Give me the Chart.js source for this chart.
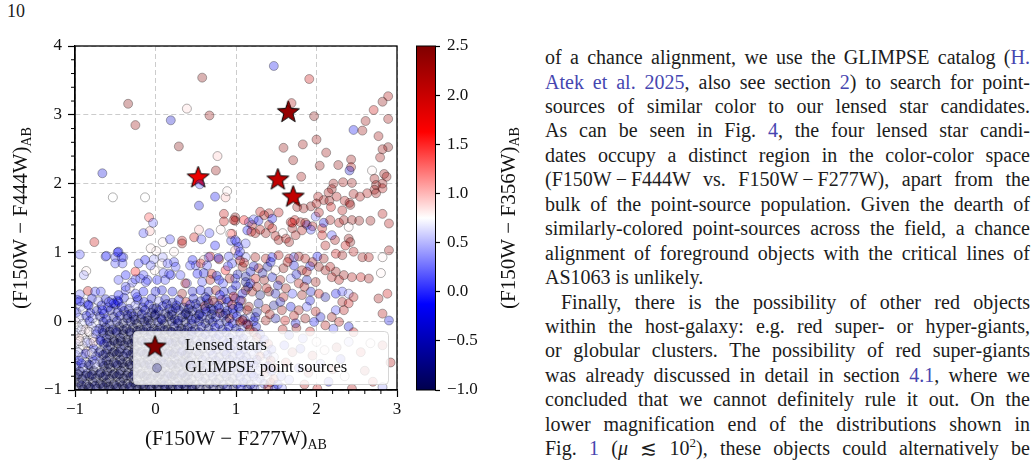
<!DOCTYPE html>
<html>
<head>
<meta charset="utf-8">
<script src="https://cdn.jsdelivr.net/npm/chart.js@4.4.1/dist/chart.umd.min.js"></script>
<style>
body { margin: 0; width: 1036px; height: 470px; background: #fff; overflow: hidden; position: relative; font-family: "Liberation Serif", serif; color: #1c1c1c; }
#main { position: absolute; left: 0; top: 0; }
#cbar { position: absolute; left: 400px; top: 0; }
#page { position: absolute; left: 7px; top: 1px; font-size: 18px; }
.ln { position: absolute; left: 545px; width: 485px; height: 24px; font-size: 20px; line-height: 24px; }
.ln span.t { white-space: nowrap; }
.ln.ind { left: 561px; width: 469px; }
.lk { color: #4646b0; }
</style>
</head>
<body>
<div id="page">10</div>
<canvas id="main" width="410" height="470"></canvas>
<canvas id="cbar" width="140" height="470"></canvas>

<div class="ln j" style="top:45px"><span class="t">of a chance alignment, we use the GLIMPSE catalog (<span class="lk">H.</span></span></div>
<div class="ln j" style="top:69.5px"><span class="t"><span class="lk">Atek et al. 2025</span>, also see section <span class="lk">2</span>) to search for point-</span></div>
<div class="ln j" style="top:94px"><span class="t">sources of similar color to our lensed star candidates.</span></div>
<div class="ln j" style="top:118.4px"><span class="t">As can be seen in Fig. <span class="lk">4</span>, the four lensed star candi-</span></div>
<div class="ln j" style="top:142.8px"><span class="t">dates occupy a distinct region in the color-color space</span></div>
<div class="ln j" style="top:167.2px"><span class="t">(F150W&#8201;&#8722;&#8201;F444W vs. F150W&#8201;&#8722;&#8201;F277W), apart from the</span></div>
<div class="ln j" style="top:191.7px"><span class="t">bulk of the point-source population. Given the dearth of</span></div>
<div class="ln j" style="top:216.1px"><span class="t">similarly-colored point-sources across the field, a chance</span></div>
<div class="ln j" style="top:240.6px"><span class="t">alignment of foreground objects with the critical lines of</span></div>
<div class="ln" style="top:265px"><span class="t">AS1063 is unlikely.</span></div>
<div class="ln j ind" style="top:289.5px"><span class="t">Finally, there is the possibility of other red objects</span></div>
<div class="ln j" style="top:314px"><span class="t">within the host-galaxy: e.g. red super- or hyper-giants,</span></div>
<div class="ln j" style="top:338.4px"><span class="t">or globular clusters. The possibility of red super-giants</span></div>
<div class="ln j" style="top:362.8px"><span class="t">was already discussed in detail in section <span class="lk">4.1</span>, where we</span></div>
<div class="ln j" style="top:387.3px"><span class="t">concluded that we cannot definitely rule it out. On the</span></div>
<div class="ln j" style="top:411.7px"><span class="t">lower magnification end of the distributions shown in</span></div>
<div class="ln j" style="top:436.2px"><span class="t">Fig. <span class="lk">1</span> (<i>&#956;</i> &#8818; 10<sup style="font-size:13px;line-height:0">2</sup>), these objects could alternatively be</span></div>

<script>
// colour scale of the colorbar: (F150W - F356W)
const CMIN = -1.0;
const CMAX = 2.5;

const xTicks = [-1, 0, 1, 2, 3];
const yTicks = [-1, 0, 1, 2, 3, 4];
const cbarTicks = [-1.0, -0.5, 0.0, 0.5, 1.0, 1.5, 2.0, 2.5];

// lensed star candidates
const starX = [0.53, 1.65, 1.52, 1.71];
const starY = [2.10, 3.05, 2.07, 1.82];
const starC = [1.75, 2.35, 2.05, 2.05];

// GLIMPSE point sources: [F150W-F277W, F150W-F444W, F150W-F356W]
const sourcesUpper = [
  [0.58,3.54,2.5],[-0.34,3.16,2.5],[0.39,3.09,0.9],[0.67,2.99,2.4],[0.19,2.92,-0.4],[-0.25,2.85,2.35],[0.29,2.54,2.5],[0.77,2.40,0.95],
  [0.75,2.19,2.4],[-0.66,2.15,-0.3],[0.55,1.99,0.1],[-0.53,1.80,0.75],[-0.13,1.80,0.75],[0.74,1.81,-0.2],[0.87,1.80,1.0],[0.89,1.89,0.8],
  [0.54,1.68,-0.3],[-0.08,1.51,1.4],[-0.03,1.43,0.2],[0.85,1.56,2.0],[0.85,1.45,2.0],[0.99,1.51,2.45],[0.99,1.46,2.45],
  [1.47,3.71,-0.2],[1.91,3.52,2.0],[1.69,3.17,2.2],[1.97,2.98,2.5],[2.89,3.27,2.2],[2.82,3.19,2.45],[2.71,3.07,2.0],[2.61,2.91,2.35],
  [2.89,2.94,2.3],[2.46,2.78,-0.2],[2.57,2.77,2.35],[2.77,2.69,2.3],[2.00,2.64,2.35],[1.83,2.57,2.35],[1.59,2.52,2.4],[2.89,2.53,2.5],
  [2.82,2.50,2.35],[2.79,2.38,2.3],[2.12,2.45,2.35],[1.71,2.34,2.4],[2.43,2.35,2.35],[2.43,2.24,2.2],[2.04,2.26,2.4],[2.27,2.27,2.4],
  [2.41,2.19,-0.4],[2.69,2.19,0.8],[1.81,2.10,2.3],[2.72,2.07,2.3],[2.84,2.14,2.35],[2.87,2.10,2.3],[2.21,2.00,2.35],[2.33,2.02,2.3],
  [2.44,2.01,2.4],[2.19,1.92,2.35],[2.15,1.87,2.3],[2.25,1.81,2.2],[2.74,1.98,2.4],[2.72,1.91,2.35],[2.74,1.86,2.3],[2.82,1.93,2.2],
  [2.82,2.00,2.35],[2.63,1.86,2.2],[2.54,1.81,2.2],[2.46,1.85,2.3],[2.02,1.81,2.2],[2.09,1.76,2.3],[2.16,1.75,2.4],[2.35,1.75,2.2],
  [2.41,1.72,2.3],[1.93,1.67,2.4],[1.84,1.64,2.35],[1.76,1.66,2.3],[2.00,1.71,2.2],[2.82,1.56,2.2],[0.97,1.47,2.0],[1.10,1.47,1.6],
  [1.22,1.48,0.2],[1.28,1.46,-0.3],[1.41,1.57,2.2],[1.45,1.49,-0.2],[1.53,1.58,2.1],[1.70,1.43,1.8],[1.80,1.44,2.2],[1.86,1.43,2.35],
  [1.99,1.52,0.2],[2.03,1.58,2.2],[2.09,1.43,-0.3],[2.17,1.47,2.3],[2.28,1.43,2.2],[2.34,1.47,2.35],[2.44,1.47,2.35],[2.53,1.46,2.45],
  [2.67,1.46,2.4],[2.40,1.37,0.8],[2.90,1.42,2.2],[2.18,1.66,2.0],[2.32,1.61,2.2],[2.42,1.69,2.35],[1.35,1.54,2.3],[1.30,1.59,2.1]
];

const sourcesMiddle = [
  [-0.07,1.31,1.0],[-0.15,1.28,0.1],[-0.76,1.15,2.0],[0.09,1.15,0.8],[0.18,1.19,0.1],[0.33,1.17,2.0],[0.48,1.22,2.0],[0.54,1.33,1.0],
  [0.57,1.19,0.1],[0.67,1.28,0.1],[0.74,1.10,-0.1],[0.81,1.33,0.8],[0.95,1.27,1.6],[0.94,1.17,0.1],[1.01,1.15,0.1],[1.03,1.08,-0.1],
  [-0.94,0.97,0.1],[-0.62,0.94,0.1],[-0.46,1.01,-0.1],[-0.50,0.93,0.1],[-0.40,0.93,0.1],[-0.13,0.89,-0.1],[0.01,1.02,0.8],[0.09,0.93,0.4],
  [0.23,1.01,0.8],[0.23,0.86,0.1],[0.46,0.89,-0.1],[0.60,0.89,0.9],[0.68,0.94,1.6],[0.79,0.90,2.2],[0.91,0.94,0.1],[0.99,1.03,1.0],
  [1.68,1.44,2.2],[1.73,1.47,2.0],[1.88,1.40,-0.1],[1.95,1.38,2.2],[2.07,1.35,2.0],[1.70,1.35,2.35],[1.82,1.32,2.2],[1.93,1.33,0.1],
  [1.74,1.25,2.3],[1.16,1.44,0.1],[1.20,1.40,2.2],[1.14,1.32,-0.1],[1.19,1.30,2.0],[1.24,1.28,2.3],[1.30,1.33,2.2],[1.37,1.28,2.35],
  [1.45,1.35,2.0],[1.41,1.40,2.3],[1.49,1.24,2.2],[1.58,1.28,0.8],[1.53,1.18,2.3],[1.62,1.20,2.2],[1.66,1.15,2.35],[2.07,1.25,2.0],
  [2.19,1.25,0.1],[2.23,1.18,2.3],[2.40,1.20,2.4],[2.42,1.15,2.45],[2.36,1.10,2.0],[2.11,1.10,2.2],[2.24,0.98,2.0],[2.32,0.96,2.35],
  [2.46,1.01,2.2],[2.57,0.93,2.3],[2.65,0.93,2.2],[2.82,0.93,0.8],[2.90,1.03,2.3],[1.03,0.96,-0.1],[1.12,0.93,0.4],[1.24,0.93,2.3],
  [1.37,0.91,2.2],[1.45,0.93,-0.1],[1.53,0.96,2.2],[1.66,0.91,2.2],[1.72,0.93,0.1],[1.78,0.94,2.3],[1.86,0.91,2.2],[2.01,0.94,-0.1],
  [2.09,0.91,2.35],
  [-0.61,0.95,0.1],[-0.47,1.00,-0.1],[-0.42,0.93,0.1],[-0.50,0.84,0.1],[-0.86,0.73,0.8],[-0.89,0.67,0.4],[-0.94,0.39,0.2],[-0.84,0.44,2.0],
  [-0.75,0.43,0.1],[-0.68,0.43,0.1],[-0.83,0.23,-0.1],[-0.94,0.29,-0.1],[-0.54,0.31,0.1],[-0.46,0.28,-0.1],[-0.37,0.45,0.1],[-0.32,0.48,0.8],
  [-0.29,0.56,0.2],[-0.25,0.61,0.1],[-0.23,0.35,-0.1],[-0.25,0.72,1.6],[-0.02,0.90,0.4],[-0.06,1.06,0.8],[-0.10,0.60,0.1],[-0.19,0.62,0.2],
  [-0.01,0.74,0.8],[0.08,0.84,0.8],[0.10,0.70,0.1],[0.33,1.13,2.2],[0.15,0.84,0.1],[0.19,0.67,-0.1],[0.31,0.67,0.1],[0.39,0.55,0.2],
  [0.50,0.81,0.1],[0.56,0.84,2.0],[0.66,0.93,0.1],[0.93,1.27,0.9],[0.99,1.18,0.1],[1.05,1.01,0.1],[1.12,1.13,0.2],
  [-0.66,0.16,-0.1],[-0.58,0.28,0.1],[-0.52,0.26,-0.1],[-0.46,0.60,0.1],[-0.37,0.67,-0.1],[-0.41,0.84,0.1],[-0.21,0.84,0.1],[-0.15,0.67,0.1],
  [-0.12,0.57,0.1],[-0.06,0.81,0.2],[0.02,0.60,-0.1],[0.08,0.45,-0.3],[0.12,0.60,0.1],[0.17,0.69,0.2],[0.25,0.79,0.1],[0.37,0.55,2.2],
  [0.43,0.81,0.1],[0.52,0.69,-0.1],[0.58,0.57,0.1],[0.64,0.81,0.1],[0.70,0.69,2.0],[0.79,0.60,-0.1],[0.87,0.74,1.6],[0.95,0.84,0.1],
  [0.99,0.62,0.1],[0.00,0.43,-0.3],[-0.15,0.43,-0.1],[-0.25,0.40,0.1],[-0.37,0.50,0.1],[-0.46,0.38,-0.1],[0.21,0.43,-0.3],[0.33,0.40,2.4],
  [0.46,0.43,-0.4],[0.56,0.45,-0.1],[0.66,0.43,-0.4],[0.75,0.45,2.3],[0.85,0.43,-0.3],[0.95,0.45,-0.4],
  [0.60,0.70,-0.3],[0.68,0.60,2.2],[0.76,0.66,-0.4],[0.84,0.55,0.1],[0.92,0.62,2.35],[1.00,0.52,-0.3],[0.62,0.35,-0.6],[0.71,0.30,2.3],
  [0.80,0.38,-0.1],[0.88,0.32,-0.4],[0.97,0.36,2.0],[1.05,0.30,0.1],[1.12,0.45,2.4],[0.90,0.80,0.1],[1.05,0.88,2.2],[0.78,0.92,-0.1],
  [1.12,0.65,-0.6],[1.18,0.55,-0.1]
];

const sourcesMixed = [
  [1.08,0.79,2.35],[1.18,0.72,-0.4],[1.28,0.77,2.2],[1.39,0.79,-0.6],[1.49,0.74,0.8],[1.59,0.77,2.45],[1.72,0.81,-0.3],[1.82,0.74,2.3],
  [1.12,0.57,-0.7],[1.24,0.62,2.0],[1.35,0.60,2.4],[1.45,0.64,-0.4],[1.55,0.60,2.3],[1.68,0.62,0.4],[1.78,0.55,2.2],[1.88,0.60,-0.5],
  [1.99,0.57,2.35],[1.08,0.40,-0.3],[1.20,0.43,2.3],[1.30,0.38,-0.8],[1.41,0.43,2.5],[1.49,0.40,-0.5],[1.59,0.35,2.2],[1.70,0.40,0.1],
  [1.82,0.38,2.4],[1.93,0.43,-0.4],[2.03,0.40,2.0],[2.11,0.35,-0.6],[1.16,0.21,2.4],[1.28,0.26,-0.6],[1.37,0.18,2.2],[1.47,0.23,-0.7],
  [1.57,0.16,2.35],[1.68,0.21,-0.3],[1.78,0.16,2.3],[1.88,0.21,0.2],[1.99,0.14,2.2],[2.05,0.06,-0.4],[1.24,0.06,-0.5],[1.37,0.01,2.35],
  [1.49,0.04,-0.6],[1.61,0.01,2.0],[1.74,-0.03,-0.3],[1.86,0.04,2.4],[1.97,-0.01,-0.2],[1.08,0.01,2.2],[1.03,0.21,-0.4],
  [1.02,0.68,-0.5],[1.10,0.85,2.2],[1.15,0.50,-0.7],[1.22,0.80,-0.4],[1.26,0.50,2.3],[1.33,0.70,-0.6],[1.38,0.48,2.2],[1.43,0.86,-0.3],
  [1.52,0.52,-0.5],[1.62,0.48,2.35],[1.64,0.86,2.2],[1.75,0.68,-0.4],[1.85,0.50,2.3],[1.92,0.80,-0.2],[1.26,0.13,-0.6],[1.42,0.10,2.3],
  [1.55,0.28,-0.5],[1.72,0.08,2.2],[1.92,0.30,-0.3],[1.15,-0.05,2.35],
  [2.44,0.64,2.2],[2.55,0.64,2.0],[2.65,0.62,2.3],[2.80,0.70,0.8],[2.77,0.33,2.3],[2.88,0.40,2.0],[2.82,0.11,2.2],[2.90,0.01,-0.3],
  [2.19,0.64,2.2],[2.24,0.72,2.4],[2.28,0.60,2.2],[2.34,0.67,2.35],[2.11,0.74,2.3],[2.03,0.79,2.4],[2.17,0.79,2.2],[1.95,0.86,2.3],
  [1.88,0.72,2.2],[2.24,0.40,-0.2],[2.32,0.43,0.1],[2.40,0.40,0.4],[2.46,0.35,2.2],[2.32,0.28,2.3],[2.40,0.26,2.0],[2.24,0.16,0.1],
  [2.34,0.16,2.2],[2.19,0.06,2.35],[2.28,-0.01,2.2],[2.40,-0.08,-0.3],[2.46,-0.16,2.0],[2.11,-0.06,2.2],[2.21,-0.11,0.1],
  [1.58,-0.12,2.2],[1.66,-0.20,-0.3],[1.75,-0.10,2.35],[1.83,-0.25,0.2],[1.92,-0.15,2.0],[2.00,-0.30,0.8],[1.60,-0.35,-0.2],[1.70,-0.45,2.3],
  [1.80,-0.40,-0.4],[1.95,-0.50,2.2],[2.10,-0.42,0.9],[2.25,-0.38,2.3],[2.40,-0.30,0.4],[2.55,-0.45,2.0],[2.67,-0.32,0.8],[2.82,-0.35,2.2],
  [1.62,-0.60,2.0],[1.78,-0.68,-0.3],[1.90,-0.75,2.3],[2.05,-0.62,0.2],[2.20,-0.70,2.2],[2.35,-0.80,0.8],[2.60,-0.72,2.35],[1.66,-0.85,0.1],
  [1.85,-0.92,2.2],[2.01,-0.98,2.0],[2.15,-0.88,-0.2],[2.44,-0.98,2.2],[2.82,-0.96,0.4],[2.70,-0.88,2.0],[2.92,-0.60,2.2],[2.30,-0.55,-0.3]
];

const sourcesCore = [
  [-0.97,0.31,-0.2],[-0.88,0.27,0.6],[-0.79,0.33,-0.3],[-0.71,0.29,0.4],[-0.62,0.32,-0.4],[-0.55,0.26,0.5],[-0.47,0.30,-0.2],[-0.39,0.34,-0.3],
  [-0.31,0.27,0.6],[-0.22,0.31,-0.4],[-0.14,0.28,-0.2],[-0.05,0.33,-0.3],[0.04,0.29,0.4],[0.12,0.32,-0.4],[0.21,0.27,-0.5],[0.29,0.31,-0.2],
  [0.38,0.28,2.1],[0.47,0.33,-0.3],[0.56,0.29,-0.5],[0.64,0.32,-0.2],[0.73,0.27,0.5],[0.82,0.31,2.2],[0.90,0.28,-0.3],[0.99,0.33,-0.4],[1.07,0.30,2.3],
  [-0.93,0.21,0.4],[-0.84,0.24,-0.3],[-0.76,0.19,0.7],[-0.67,0.23,-0.4],[-0.59,0.20,-0.2],[-0.50,0.24,-0.5],[-0.42,0.21,-0.3],[-0.33,0.18,-0.4],
  [-0.25,0.23,0.4],[-0.16,0.20,-0.5],[-0.08,0.24,-0.3],[0.01,0.19,-0.6],[0.09,0.22,-0.3],[0.17,0.18,-0.5],[0.26,0.23,-0.4],[0.35,0.20,-0.7],
  [0.43,0.24,-0.2],[0.52,0.19,-0.4],[0.61,0.22,2.35],[0.69,0.18,-0.5],[0.78,0.23,-0.3],[0.86,0.20,0.4],[0.95,0.24,2.1],[1.04,0.19,-0.5],
  [-0.98,0.13,-0.3],[-0.90,0.16,0.7],[-0.81,0.12,-0.2],[-0.73,0.15,-0.5],[-0.64,0.11,-0.3],[-0.56,0.16,-0.6],[-0.47,0.13,-0.4],[-0.39,0.15,-0.7],
  [-0.30,0.11,-0.5],[-0.22,0.14,-0.8],[-0.13,0.16,-0.4],[-0.05,0.12,-0.7],[0.04,0.15,-0.5],[0.12,0.11,-0.8],[0.21,0.14,-0.4],[0.29,0.16,-0.6],
  [0.38,0.12,-0.3],[0.46,0.15,-0.7],[0.55,0.11,-0.5],[0.63,0.14,-0.2],[0.72,0.16,-0.6],[0.80,0.12,2.4],[0.89,0.15,-0.4],[0.97,0.11,-0.2],
  [1.06,0.14,0.6],[1.14,0.16,2.2],
  [-0.95,0.05,0.5],[-0.86,0.08,-0.4],[-0.78,0.04,0.4],[-0.69,0.07,-0.6],[-0.61,0.03,-0.3],[-0.52,0.06,-0.7],[-0.44,0.08,-0.5],[-0.35,0.04,-0.8],
  [-0.27,0.07,-0.6],[-0.18,0.03,-0.9],[-0.10,0.06,-0.7],[-0.01,0.08,-0.8],[0.07,0.04,-0.6],[0.16,0.07,-0.9],[0.24,0.03,-0.7],[0.33,0.06,-0.5],
  [0.41,0.08,-0.8],[0.50,0.04,-0.6],[0.58,0.07,-0.4],[0.67,0.03,-0.7],[0.75,0.06,-0.3],[0.84,0.08,-0.5],[0.92,0.04,2.3],[1.01,0.07,-0.3],
  [1.10,0.03,-0.5],[1.18,0.06,0.5],
  [-0.99,-0.01,0.8],[-0.91,-0.04,0.6],[-0.82,0.00,-0.3],[-0.74,-0.03,0.7],[-0.65,-0.01,-0.5],[-0.57,-0.04,-0.7],[-0.48,0.00,-0.6],[-0.40,-0.03,-0.9],
  [-0.31,-0.01,-0.7],[-0.23,-0.04,-1.0],[-0.14,0.00,-0.8],[-0.06,-0.03,-0.9],[0.03,-0.01,-0.7],[0.11,-0.04,-1.0],[0.20,0.00,-0.8],[0.28,-0.03,-0.6],
  [0.37,-0.01,-0.9],[0.45,-0.04,-0.7],[0.54,0.00,-0.5],[0.62,-0.03,-0.8],[0.71,-0.01,-0.6],[0.79,-0.04,-0.4],[0.88,0.00,-0.7],[0.96,-0.03,-0.3],
  [1.05,-0.01,2.35],[1.13,-0.04,-0.4],[1.22,0.00,-0.2],
  [-0.96,-0.09,0.7],[-0.87,-0.12,0.9],[-0.79,-0.08,0.5],[-0.70,-0.11,-0.4],[-0.62,-0.09,-0.8],[-0.53,-0.12,-0.6],[-0.45,-0.08,-1.0],[-0.36,-0.11,-0.8],
  [-0.28,-0.09,-1.0],[-0.19,-0.12,-0.9],[-0.11,-0.08,-0.7],[-0.02,-0.11,-1.0],[0.06,-0.09,-0.8],[0.15,-0.12,-1.0],[0.23,-0.08,-0.7],[0.32,-0.11,-0.9],
  [0.40,-0.09,-0.6],[0.49,-0.12,-0.8],[0.57,-0.08,-0.5],[0.66,-0.11,-0.7],[0.74,-0.09,-0.3],[0.83,-0.12,-0.6],[0.91,-0.08,-0.2],[1.00,-0.11,-0.5],
  [1.08,-0.09,0.4],[1.17,-0.12,2.2],[1.25,-0.08,-0.4],
  [-0.99,-0.17,0.6],[-0.91,-0.20,0.8],[-0.82,-0.16,0.7],[-0.74,-0.19,-0.2],[-0.65,-0.17,-0.6],[-0.57,-0.20,-0.9],[-0.48,-0.16,-0.7],[-0.40,-0.19,-1.0],
  [-0.31,-0.17,-0.8],[-0.23,-0.20,-1.0],[-0.14,-0.16,-0.9],[-0.06,-0.19,-1.0],[0.03,-0.17,-0.8],[0.11,-0.20,-1.0],[0.20,-0.16,-0.7],[0.28,-0.19,-1.0],
  [0.37,-0.17,-0.8],[0.45,-0.20,-0.5],[0.54,-0.16,-0.7],[0.62,-0.19,-0.4],[0.71,-0.17,-0.6],[0.79,-0.20,-0.2],[0.88,-0.16,-0.5],[0.96,-0.19,0.4],
  [1.05,-0.17,-0.4],[1.13,-0.20,0.6],[1.22,-0.16,2.3],[1.30,-0.19,-0.3],
  [-0.95,-0.25,0.9],[-0.86,-0.28,0.6],[-0.78,-0.24,0.8],[-0.69,-0.27,-0.3],[-0.61,-0.25,-0.7],[-0.52,-0.28,-1.0],[-0.44,-0.24,-0.8],[-0.35,-0.27,-1.0],
  [-0.27,-0.25,-0.9],[-0.18,-0.28,-1.0],[-0.10,-0.24,-0.8],[-0.01,-0.27,-1.0],[0.07,-0.25,-0.9],[0.16,-0.28,-0.7],[0.24,-0.24,-1.0],[0.33,-0.27,-0.7],
  [0.41,-0.25,-0.9],[0.50,-0.28,-0.6],[0.58,-0.24,-0.8],[0.67,-0.27,-0.5],[0.75,-0.25,-0.7],[0.84,-0.28,-0.3],[0.92,-0.24,-0.5],[1.01,-0.27,-0.2],
  [1.09,-0.25,-0.4],[1.18,-0.28,0.5],[1.26,-0.24,2.1],[1.35,-0.27,-0.2],
  [-0.98,-0.33,0.5],[-0.90,-0.36,0.8],[-0.81,-0.32,0.4],[-0.73,-0.35,0.7],[-0.64,-0.33,-0.5],[-0.56,-0.36,-0.8],[-0.47,-0.32,-1.0],[-0.39,-0.35,-0.9],
  [-0.30,-0.33,-1.0],[-0.22,-0.36,-1.0],[-0.13,-0.32,-0.8],[-0.05,-0.35,-1.0],[0.04,-0.33,-0.9],[0.12,-0.36,-1.0],[0.21,-0.32,-0.8],[0.29,-0.35,-1.0],
  [0.38,-0.33,-0.7],[0.46,-0.36,-0.9],[0.55,-0.32,-0.6],[0.63,-0.35,-0.8],[0.72,-0.33,-0.5],[0.80,-0.36,-0.7],[0.89,-0.32,-0.3],[0.97,-0.35,-0.5],
  [1.06,-0.33,0.4],[1.14,-0.36,-0.4],[1.23,-0.32,0.6],[1.31,-0.35,-0.3],[1.40,-0.33,2.2],
  [-0.94,-0.41,0.7],[-0.85,-0.44,0.9],[-0.77,-0.40,-0.2],[-0.68,-0.43,0.6],[-0.60,-0.41,-0.7],[-0.51,-0.44,-1.0],[-0.43,-0.40,-0.8],[-0.34,-0.43,-1.0],
  [-0.26,-0.41,-1.0],[-0.17,-0.44,-1.0],[-0.09,-0.40,-0.9],[0.00,-0.43,-1.0],[0.08,-0.41,-0.8],[0.17,-0.44,-1.0],[0.25,-0.40,-0.9],[0.34,-0.43,-0.7],
  [0.42,-0.41,-1.0],[0.51,-0.44,-0.7],[0.59,-0.40,-0.9],[0.68,-0.43,-0.6],[0.76,-0.41,-0.4],[0.85,-0.44,-0.7],[0.93,-0.40,-0.2],[1.02,-0.43,-0.5],
  [1.10,-0.41,-0.3],[1.19,-0.44,0.5],[1.27,-0.40,-0.5],[1.36,-0.43,0.7],[1.44,-0.41,-0.3],
  [-0.99,-0.49,0.4],[-0.91,-0.52,0.6],[-0.82,-0.48,0.8],[-0.74,-0.51,-0.3],[-0.65,-0.49,-0.6],[-0.57,-0.52,-0.9],[-0.48,-0.48,-1.0],[-0.40,-0.51,-1.0],
  [-0.31,-0.49,-1.0],[-0.23,-0.52,-1.0],[-0.14,-0.48,-0.9],[-0.06,-0.51,-1.0],[0.03,-0.49,-1.0],[0.11,-0.52,-0.8],[0.20,-0.48,-1.0],[0.28,-0.51,-0.9],
  [0.37,-0.49,-1.0],[0.45,-0.52,-0.8],[0.54,-0.48,-1.0],[0.62,-0.51,-0.7],[0.71,-0.49,-0.5],[0.79,-0.52,-0.8],[0.88,-0.48,-0.4],[0.96,-0.51,-0.6],
  [1.05,-0.49,-0.2],[1.13,-0.52,-0.5],[1.22,-0.48,0.4],[1.30,-0.51,2.1],[1.39,-0.49,-0.4],[1.47,-0.52,0.5],
  [-0.95,-0.57,-0.2],[-0.86,-0.60,0.7],[-0.78,-0.56,-0.4],[-0.69,-0.59,0.4],[-0.61,-0.57,-0.8],[-0.52,-0.60,-1.0],[-0.44,-0.56,-0.9],[-0.35,-0.59,-1.0],
  [-0.27,-0.57,-1.0],[-0.18,-0.60,-1.0],[-0.10,-0.56,-1.0],[-0.01,-0.59,-1.0],[0.07,-0.57,-0.9],[0.16,-0.60,-1.0],[0.24,-0.56,-0.8],[0.33,-0.59,-1.0],
  [0.41,-0.57,-0.9],[0.50,-0.60,-1.0],[0.58,-0.56,-0.7],[0.67,-0.59,-0.9],[0.75,-0.57,-0.6],[0.84,-0.60,-0.4],[0.92,-0.56,-0.7],[1.01,-0.59,-0.3],
  [1.09,-0.57,-0.6],[1.18,-0.60,-0.2],[1.26,-0.56,-0.5],[1.35,-0.59,0.6],[1.43,-0.57,2.3],
  [-0.98,-0.65,-0.5],[-0.90,-0.68,0.4],[-0.81,-0.64,-0.7],[-0.73,-0.67,0.6],[-0.64,-0.65,-0.9],[-0.56,-0.68,-1.0],[-0.47,-0.64,-1.0],[-0.39,-0.67,-1.0],
  [-0.30,-0.65,-1.0],[-0.22,-0.68,-1.0],[-0.13,-0.64,-1.0],[-0.05,-0.67,-0.9],[0.04,-0.65,-1.0],[0.12,-0.68,-1.0],[0.21,-0.64,-1.0],[0.29,-0.67,-0.9],
  [0.38,-0.65,-1.0],[0.46,-0.68,-0.8],[0.55,-0.64,-1.0],[0.63,-0.67,-0.7],[0.72,-0.65,-0.9],[0.80,-0.68,-0.5],[0.89,-0.64,-0.7],[0.97,-0.67,-0.4],
  [1.06,-0.65,-0.6],[1.14,-0.68,-0.2],[1.23,-0.64,-0.4],[1.31,-0.67,0.5],[1.40,-0.65,-0.3],[1.48,-0.68,2.2],
  [-0.94,-0.73,-0.8],[-0.85,-0.76,-0.6],[-0.77,-0.72,-1.0],[-0.68,-0.75,-0.7],[-0.60,-0.73,-1.0],[-0.51,-0.76,-1.0],[-0.43,-0.72,-1.0],[-0.34,-0.75,-1.0],
  [-0.26,-0.73,-1.0],[-0.17,-0.76,-1.0],[-0.09,-0.72,-1.0],[0.00,-0.75,-1.0],[0.08,-0.73,-1.0],[0.17,-0.76,-0.9],[0.25,-0.72,-1.0],[0.34,-0.75,-1.0],
  [0.42,-0.73,-1.0],[0.51,-0.76,-0.8],[0.59,-0.72,-1.0],[0.68,-0.75,-0.8],[0.76,-0.73,-0.6],[0.85,-0.76,-0.9],[0.93,-0.72,-0.5],[1.02,-0.75,-0.7],
  [1.10,-0.73,-0.3],[1.19,-0.76,-0.5],[1.27,-0.72,0.4],[1.36,-0.75,2.1],[1.44,-0.73,-0.2],
  [-0.99,-0.81,-1.0],[-0.91,-0.84,-0.7],[-0.82,-0.80,-1.0],[-0.74,-0.83,-0.9],[-0.65,-0.81,-1.0],[-0.57,-0.84,-1.0],[-0.48,-0.80,-1.0],[-0.40,-0.83,-1.0],
  [-0.31,-0.81,-1.0],[-0.23,-0.84,-1.0],[-0.14,-0.80,-1.0],[-0.06,-0.83,-1.0],[0.03,-0.81,-1.0],[0.11,-0.84,-1.0],[0.20,-0.80,-0.9],[0.28,-0.83,-1.0],
  [0.37,-0.81,-1.0],[0.45,-0.84,-1.0],[0.54,-0.80,-0.9],[0.62,-0.83,-1.0],[0.71,-0.81,-0.7],[0.79,-0.84,-1.0],[0.88,-0.80,-0.6],[0.96,-0.83,-0.8],
  [1.05,-0.81,-0.4],[1.13,-0.84,-0.6],[1.22,-0.80,-0.2],[1.30,-0.83,-0.5],[1.39,-0.81,0.6],[1.47,-0.84,2.2],[1.56,-0.80,-0.3],
  [-0.95,-0.89,-1.0],[-0.86,-0.92,-0.9],[-0.78,-0.88,-1.0],[-0.69,-0.91,-1.0],[-0.61,-0.89,-1.0],[-0.52,-0.92,-1.0],[-0.44,-0.88,-1.0],[-0.35,-0.91,-1.0],
  [-0.27,-0.89,-1.0],[-0.18,-0.92,-1.0],[-0.10,-0.88,-1.0],[-0.01,-0.91,-1.0],[0.07,-0.89,-1.0],[0.16,-0.92,-1.0],[0.24,-0.88,-0.9],[0.33,-0.91,-1.0],
  [0.41,-0.89,-1.0],[0.50,-0.92,-1.0],[0.58,-0.88,-0.8],[0.67,-0.91,-1.0],[0.75,-0.89,-0.9],[0.84,-0.92,-0.7],[0.92,-0.88,-1.0],[1.01,-0.91,-0.6],
  [1.09,-0.89,-0.3],[1.18,-0.92,-0.7],[1.26,-0.88,0.4],[1.35,-0.91,-0.4],[1.43,-0.89,2.35],[1.52,-0.92,-0.2],
  [-0.98,-0.96,-1.0],[-0.90,-0.99,-1.0],[-0.81,-0.97,-1.0],[-0.73,-0.98,-1.0],[-0.64,-0.96,-0.9],[-0.56,-0.99,-1.0],[-0.47,-0.97,-1.0],[-0.39,-0.98,-1.0],
  [-0.30,-0.96,-1.0],[-0.22,-0.99,-1.0],[-0.13,-0.97,-1.0],[-0.05,-0.98,-1.0],[0.04,-0.96,-1.0],[0.12,-0.99,-0.9],[0.21,-0.97,-1.0],[0.29,-0.98,-1.0],
  [0.38,-0.96,-0.8],[0.46,-0.99,-1.0],[0.55,-0.97,-0.9],[0.63,-0.98,-1.0],[0.72,-0.96,-0.8],[0.80,-0.99,-1.0],[0.89,-0.97,-0.6],[0.97,-0.98,-0.9],
  [1.06,-0.96,-0.3],[1.14,-0.99,-0.7],[1.23,-0.97,-0.5],[1.31,-0.98,0.6],[1.40,-0.96,2.2],[1.48,-0.99,-0.4],[1.57,-0.97,0.4]
];

const sourcesCoreFill = [
  [-0.92,-0.13,0.6],[-0.83,-0.15,0.8],[-0.74,-0.14,0.4],[-0.66,-0.13,-0.7],[-0.57,-0.15,-1.0],[-0.49,-0.14,-0.8],[-0.40,-0.13,-1.0],[-0.32,-0.15,-0.9],
  [-0.23,-0.14,-1.0],[-0.15,-0.13,-1.0],[-0.06,-0.15,-0.8],[0.02,-0.14,-1.0],[0.11,-0.13,-0.9],[0.19,-0.15,-1.0],[0.28,-0.14,-0.8],[0.36,-0.13,-1.0],[0.45,-0.15,-0.7],
  [-0.94,-0.29,0.8],[-0.85,-0.31,0.5],[-0.77,-0.30,0.9],[-0.68,-0.29,-0.4],[-0.60,-0.31,-0.9],[-0.51,-0.30,-1.0],[-0.43,-0.29,-1.0],[-0.34,-0.31,-1.0],
  [-0.26,-0.30,-1.0],[-0.17,-0.29,-0.9],[-0.09,-0.31,-1.0],[0.00,-0.30,-1.0],[0.08,-0.29,-1.0],[0.17,-0.31,-0.8],[0.25,-0.30,-1.0],[0.34,-0.29,-0.9],[0.42,-0.31,-1.0],
  [-0.96,-0.45,0.5],[-0.87,-0.47,-0.3],[-0.79,-0.46,0.7],[-0.70,-0.45,-0.8],[-0.62,-0.47,-1.0],[-0.53,-0.46,-1.0],[-0.45,-0.45,-0.9],[-0.36,-0.47,-0.7],
  [-0.28,-0.46,-1.0],[-0.19,-0.45,-0.9],[-0.11,-0.47,-1.0],[-0.02,-0.46,-0.8],[0.06,-0.45,-1.0],[0.15,-0.47,-0.7],[0.23,-0.46,-0.9],[0.32,-0.45,-0.6],[0.40,-0.47,-0.9],
  [-0.92,-0.61,-0.3],[-0.83,-0.63,-0.8],[-0.75,-0.62,0.5],[-0.66,-0.61,-0.9],[-0.58,-0.63,-1.0],[-0.49,-0.62,-0.8],[-0.41,-0.61,-1.0],[-0.32,-0.63,-1.0],
  [-0.24,-0.62,-0.9],[-0.15,-0.61,-1.0],[-0.07,-0.63,-0.8],[0.02,-0.62,-1.0],[0.10,-0.61,-0.7],[0.19,-0.63,-0.9],[0.27,-0.62,-1.0],[0.36,-0.61,-0.8],[0.44,-0.63,-0.6],
  [-0.96,-0.77,-0.9],[-0.87,-0.79,-1.0],[-0.79,-0.78,-0.8],[-0.70,-0.77,-1.0],[-0.62,-0.79,-0.9],[-0.53,-0.78,-1.0],[-0.45,-0.77,-0.9],[-0.36,-0.79,-1.0],
  [-0.28,-0.78,-0.8],[-0.19,-0.77,-1.0],[-0.11,-0.79,-1.0],[-0.02,-0.78,-0.9],[0.06,-0.77,-1.0],[0.15,-0.79,-0.8],[0.23,-0.78,-1.0],[0.32,-0.77,-0.7],[0.40,-0.79,-0.9],
  [-0.92,-0.93,-0.9],[-0.83,-0.95,-1.0],[-0.75,-0.94,-0.8],[-0.66,-0.93,-1.0],[-0.58,-0.95,-1.0],[-0.49,-0.94,-0.9],[-0.41,-0.93,-1.0],[-0.32,-0.95,-0.8],
  [-0.24,-0.94,-1.0],[-0.15,-0.93,-1.0],[-0.07,-0.95,-0.9],[0.02,-0.94,-1.0],[0.11,-0.93,-0.8],[0.19,-0.95,-1.0],[0.28,-0.94,-0.7],[0.36,-0.93,-0.9],[0.45,-0.95,-0.8],
  [-0.35,0.09,-0.7],[-0.26,0.02,-0.9],[-0.17,0.10,-0.6],[-0.09,0.01,-1.0],[0.00,0.10,-0.8],[0.08,0.02,-0.6],[0.20,0.09,-0.9],[0.28,0.01,-0.7],
  [0.37,0.10,-1.0],[0.45,0.02,-0.5],[0.54,0.09,-0.8],[0.62,0.18,-0.6],[0.70,0.10,-0.9],[0.79,0.19,-0.5],[0.87,0.11,-0.8],[0.96,0.18,-0.4],
  [0.50,0.25,-0.7],[0.66,0.26,-0.8],[0.41,0.18,-0.9],[0.25,0.19,-0.7],[0.14,0.25,-0.6],[-0.03,0.18,-0.8]
];

const SERIF = '"Liberation Serif", serif';
const POINT_ALPHA = 0.3;

function seismic(c) {
    let t = (c - CMIN) / (CMAX - CMIN);
    t = Math.max(0, Math.min(1, t));
    let r, g, b;
    if (t < 0.25) { r = 0; g = 0; b = 0.3 + 0.7 * t / 0.25; }
    else if (t < 0.5) { const f = (t - 0.25) / 0.25; r = f; g = f; b = 1; }
    else if (t < 0.75) { const f = (t - 0.5) / 0.25; r = 1; g = 1 - f; b = 1 - f; }
    else { const f = (t - 0.75) / 0.25; r = 1 - 0.5 * f; g = 0; b = 0; }
    return [r, g, b].map(v => Math.round(v * 255));
}
const rgba = (c, a) => { const [r, g, b] = seismic(c); return `rgba(${r},${g},${b},${a})`; };
const minus = v => (v < 0 ? '\u2212' : '') + Math.abs(v);

function starCanvas(fill, R) {
    const s = Math.ceil(R * 2 + 4);
    const cv = document.createElement('canvas');
    cv.width = s; cv.height = s;
    const g = cv.getContext('2d');
    g.beginPath();
    for (let i = 0; i < 10; i++) {
        const r = i % 2 ? R * 0.42 : R;
        const a = -Math.PI / 2 + i * Math.PI / 5;
        g.lineTo(s / 2 + r * Math.cos(a), s / 2 + r * Math.sin(a) + 1);
    }
    g.closePath();
    g.fillStyle = fill; g.fill();
    g.lineWidth = 1; g.strokeStyle = '#000'; g.stroke();
    return cv;
}
const starImgs = starC.map(c => starCanvas(rgba(c, 1), 11.5));
const legendStar = starCanvas(rgba(CMAX, 1), 11.5);

function subLabel(ctx, x, y, rot, main, sub) {
    ctx.save();
    ctx.translate(x, y);
    ctx.rotate(rot);
    ctx.fillStyle = '#111';
    ctx.textBaseline = 'alphabetic';
    ctx.font = '21px ' + SERIF;
    const w1 = ctx.measureText(main).width;
    ctx.font = '14px ' + SERIF;
    const w2 = ctx.measureText(sub).width;
    const x0 = -(w1 + w2) / 2;
    ctx.font = '21px ' + SERIF;
    ctx.fillText(main, x0, 7);
    ctx.font = '14px ' + SERIF;
    ctx.fillText(sub, x0 + w1, 11);
    ctx.restore();
}

// frame, minor ticks, axis titles, legend
const decorPlugin = {
    id: 'decor',
    afterDatasetsDraw(chart) {
        const { ctx, chartArea: a, scales } = chart;
        ctx.save();
        ctx.strokeStyle = '#000';
        ctx.lineWidth = 1.3;
        ctx.strokeRect(a.left, a.top, a.right - a.left, a.bottom - a.top);

        // minor ticks every 0.2
        ctx.lineWidth = 1;
        ctx.beginPath();
        for (let i = 0; i <= 20; i++) {
            if (i % 5 === 0) continue;
            const px = scales.x.getPixelForValue(-1 + i * 0.2);
            ctx.moveTo(px, a.bottom); ctx.lineTo(px, a.bottom + 4);
        }
        for (let i = 0; i <= 25; i++) {
            if (i % 5 === 0) continue;
            const py = scales.y.getPixelForValue(-1 + i * 0.2);
            ctx.moveTo(a.left, py); ctx.lineTo(a.left - 4, py);
        }
        ctx.stroke();

        // legend
        const lx = 133.5, ly = 331.5, lw = 255, lh = 53;
        ctx.beginPath();
        if (ctx.roundRect) ctx.roundRect(lx, ly, lw, lh, 4); else ctx.rect(lx, ly, lw, lh);
        ctx.fillStyle = 'rgba(255,255,255,0.8)';
        ctx.fill();
        ctx.strokeStyle = 'rgba(204,204,204,0.8)';
        ctx.lineWidth = 1;
        ctx.stroke();
        ctx.drawImage(legendStar, 155 - legendStar.width / 2, 346 - legendStar.height / 2);
        ctx.beginPath();
        ctx.arc(157, 368, 4.5, 0, Math.PI * 2);
        ctx.fillStyle = rgba(-0.8, POINT_ALPHA);
        ctx.fill();
        ctx.strokeStyle = `rgba(0,0,0,${POINT_ALPHA})`;
        ctx.lineWidth = 1;
        ctx.stroke();
        ctx.fillStyle = '#111';
        ctx.font = '16.5px ' + SERIF;
        ctx.textBaseline = 'middle';
        ctx.fillText('Lensed stars', 185, 346);
        ctx.fillText('GLIMPSE point sources', 185, 368);
        ctx.restore();

        subLabel(ctx, 20, (a.top + a.bottom) / 2, -Math.PI / 2, '(F150W \u2212 F444W)', 'AB');
        subLabel(ctx, (a.left + a.right) / 2, 438, 0, '(F150W \u2212 F277W)', 'AB');
    }
};

const tickFont = { family: SERIF, size: 17 };
const allSources = [...sourcesCore, ...sourcesCoreFill, ...sourcesMiddle, ...sourcesMixed, ...sourcesUpper];

new Chart(document.getElementById('main'), {
    type: 'scatter',
    plugins: [decorPlugin],
    data: {
        datasets: [{
            label: 'GLIMPSE point sources',
            data: allSources.map(([x, y, c]) => ({ x, y, c })),
            pointRadius: 4.5,
            pointBorderWidth: 1,
            backgroundColor: ctx => ctx.raw ? rgba(ctx.raw.c, POINT_ALPHA) : 'gray',
            borderColor: `rgba(0,0,0,${POINT_ALPHA})`,
            clip: 0
        }, {
            label: 'Lensed stars',
            data: starX.map((x, i) => ({ x, y: starY[i], c: starC[i] })),
            pointStyle: ctx => ctx.dataIndex !== undefined ? starImgs[ctx.dataIndex] : 'circle',
            clip: 0
        }]
    },
    options: {
        responsive: false,
        animation: false,
        events: [],
        layout: { padding: { top: 46, right: 13, left: 0, bottom: 0 } },
        plugins: { legend: { display: false }, tooltip: { enabled: false } },
        scales: {
            x: {
                type: 'linear', min: -1, max: 3,
                afterFit: s => { s.height = 80; },
                afterBuildTicks: s => { s.ticks = xTicks.map(v => ({ value: v })); },
                ticks: { color: '#111', font: tickFont, padding: 2, maxRotation: 0, autoSkip: false, callback: v => minus(v) },
                grid: { color: '#cccccc', lineWidth: 1, tickLength: 7, tickColor: '#000', tickWidth: 1.2 },
                border: { dash: [5, 3], color: '#000', width: 1.3 }
            },
            y: {
                type: 'linear', min: -1, max: 4,
                afterFit: s => { s.width = 75; },
                afterBuildTicks: s => { s.ticks = yTicks.map(v => ({ value: v })); },
                ticks: { color: '#111', font: tickFont, padding: 6, autoSkip: false, callback: v => minus(v) },
                grid: { color: '#cccccc', lineWidth: 1, tickLength: 7, tickColor: '#000', tickWidth: 1.2 },
                border: { dash: [5, 3], color: '#000', width: 1.3 }
            }
        }
    }
});

const cbarPlugin = {
    id: 'cbarFill',
    beforeDatasetsDraw(chart) {
        const { ctx, chartArea: a } = chart;
        const grad = ctx.createLinearGradient(0, a.bottom, 0, a.top);
        [0, 0.25, 0.5, 0.75, 1].forEach(t => grad.addColorStop(t, rgba(CMIN + t * (CMAX - CMIN), 1)));
        ctx.save();
        ctx.fillStyle = grad;
        ctx.fillRect(a.left, a.top, a.right - a.left, a.bottom - a.top);
        ctx.strokeStyle = '#000';
        ctx.lineWidth = 1;
        ctx.strokeRect(a.left + 0.5, a.top, a.right - a.left, a.bottom - a.top);
        ctx.restore();
        subLabel(ctx, 108, (a.top + a.bottom) / 2, -Math.PI / 2, '(F150W \u2212 F356W)', 'AB');
    }
};

new Chart(document.getElementById('cbar'), {
    type: 'scatter',
    plugins: [cbarPlugin],
    data: { datasets: [] },
    options: {
        responsive: false,
        animation: false,
        events: [],
        layout: { padding: { left: 16, top: 46, bottom: 80, right: 0 } },
        plugins: { legend: { display: false }, tooltip: { enabled: false } },
        scales: {
            x: { display: false, min: 0, max: 1 },
            y: {
                position: 'right', min: CMIN, max: CMAX,
                afterFit: s => { s.width = 105; },
                afterBuildTicks: s => { s.ticks = cbarTicks.map(v => ({ value: v })); },
                ticks: { color: '#111', font: tickFont, padding: 7, autoSkip: false, callback: v => (v < 0 ? '\u2212' : '') + Math.abs(v).toFixed(1) },
                grid: { drawOnChartArea: false, tickLength: 5, tickColor: '#000', tickWidth: 1.2 },
                border: { color: '#000', width: 1 }
            }
        }
    }
});

// justify each text line to the column width
document.querySelectorAll('.ln.j').forEach(el => {
    const span = el.querySelector('.t');
    const target = el.clientWidth;
    const w = span.getBoundingClientRect().width;
    const n = (span.textContent.match(/ /g) || []).length;
    if (n) span.style.wordSpacing = ((target - w) / n) + 'px';
});
</script>
</body>
</html>
